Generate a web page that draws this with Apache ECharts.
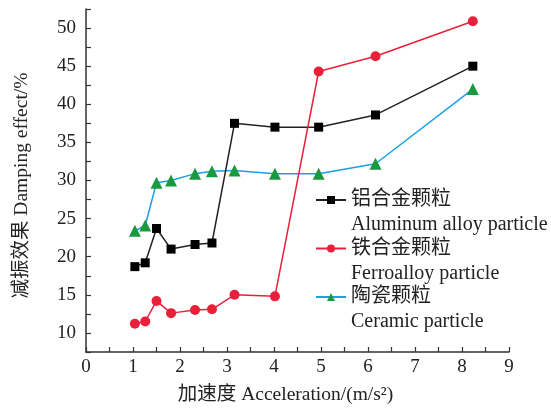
<!DOCTYPE html>
<html><head><meta charset="utf-8">
<script src="https://cdn.jsdelivr.net/npm/echarts@6/dist/echarts.min.js"></script>
<style>html,body{margin:0;padding:0;background:#fff}#c{width:551px;height:408px}</style>
</head><body><div id="c"></div>
<script>
const accel = [1.04, 1.26, 1.50, 1.81, 2.32, 2.68, 3.16, 4.02, 4.95, 6.16, 8.23];
const aluminum = [18.7, 19.2, 23.7, 21.0, 21.6, 21.8, 37.5, 37.0, 37.0, 38.6, 45.0];
const ferroalloy = [11.2, 11.5, 14.2, 12.6, 13.0, 13.1, 15.0, 14.8, 44.3, 46.3, 50.9];
const ceramic = [23.4, 24.1, 29.7, 30.0, 30.9, 31.2, 31.3, 30.9, 30.9, 32.2, 42.0];
const seriesNames = ['铝合金颗粒', '铁合金颗粒', '陶瓷颗粒'];
const seriesEn = ['Aluminum alloy particle', 'Ferroalloy particle', 'Ceramic particle'];
const xName = '加速度 Acceleration/(m/s²)';
const yName = '减振效果 Damping effect/%';

const FONT = '"Liberation Serif", "Times New Roman", "Noto Sans CJK SC", serif';
const pairs = ys => accel.map((x, i) => [x, ys[i]]);
const chart = echarts.init(document.getElementById('c'));
chart.setOption({
  animation: false,
  grid: {left: 86, right: 42, top: 9, bottom: 56, outerBoundsMode: 'none', containLabel: false},
  textStyle: {fontFamily: FONT},
  xAxis: {
    type: 'value', min: 0, max: 9, interval: 0.5,
    name: xName, nameLocation: 'middle', nameGap: 33,
    nameTextStyle: {fontFamily: FONT, fontSize: 19.5, color: '#222', padding: [0, 24, 0, 0]},
    axisLine: {show: true, lineStyle: {color: '#333', width: 1.5}},
    axisTick: {show: true, inside: true, length: 5, lineStyle: {color: '#333', width: 1.2}},
    axisLabel: {fontFamily: FONT, fontSize: 19, color: '#222', margin: 6,
      formatter: v => (Math.abs(v - Math.round(v)) < 1e-6 ? String(Math.round(v)) : '')},
    splitLine: {show: false}
  },
  yAxis: {
    type: 'value', min: 7.5, max: 52.5, interval: 2.5,
    name: yName, nameLocation: 'middle', nameGap: 54, nameRotate: 90,
    nameTextStyle: {fontFamily: FONT, fontSize: 19.5, color: '#222', padding: [0, 10, 0, 0]},
    axisLine: {show: true, lineStyle: {color: '#333', width: 1.5}},
    axisTick: {show: true, inside: true, length: 5, lineStyle: {color: '#333', width: 1.2}},
    axisLabel: {fontFamily: FONT, fontSize: 19, color: '#222', margin: 10,
      formatter: v => (Math.abs(v / 5 - Math.round(v / 5)) < 1e-6 ? String(v) : '')},
    splitLine: {show: false}
  },
  legend: {
    orient: 'vertical', left: 315, top: 162.5, padding: 0,
    itemWidth: 30, itemHeight: 10, itemGap: -26.5,
    data: seriesNames,
    formatter: name => '\n' + name + '\n' + seriesEn[seriesNames.indexOf(name)],
    textStyle: {fontFamily: FONT, fontSize: 20, color: '#222', lineHeight: 25}
  },
  series: [
    {name: seriesNames[2], type: 'line', data: pairs(ceramic), symbol: 'triangle', symbolSize: 12,
      lineStyle: {color: '#1ba1e2', width: 1.5}, itemStyle: {color: '#1a9a40'}, z: 2},
    {name: seriesNames[0], type: 'line', data: pairs(aluminum), symbol: 'rect', symbolSize: 9,
      lineStyle: {color: '#222', width: 1.5}, itemStyle: {color: '#000'}, z: 3},
    {name: seriesNames[1], type: 'line', data: pairs(ferroalloy), symbol: 'circle', symbolSize: 10,
      lineStyle: {color: '#e8203a', width: 1.5}, itemStyle: {color: '#e8203a'}, z: 4}
  ]
});
</script></body></html>
